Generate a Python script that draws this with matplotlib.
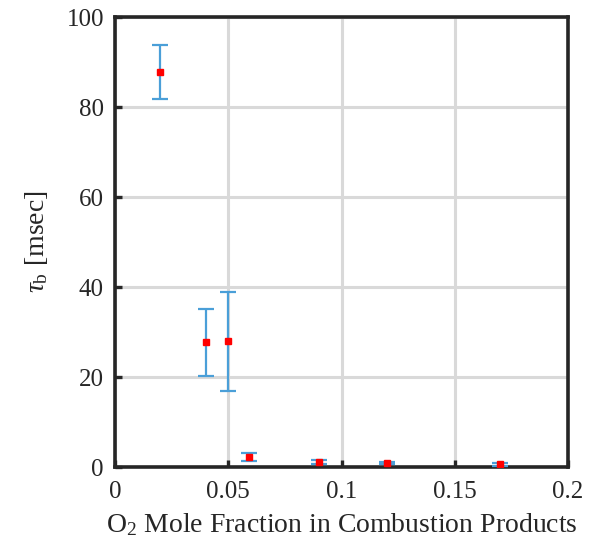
import matplotlib.pyplot as plt
import numpy as np

o2_fraction = [0.02, 0.04, 0.05, 0.059, 0.09, 0.12, 0.17]
tau_b = [87.7, 27.7, 28.0, 2.2, 1.1, 0.9, 0.6]
tau_err = [6.0, 7.5, 11.0, 0.9, 0.4, 0.3, 0.3]

plt.rcParams['font.family'] = ['Liberation Serif', 'DejaVu Serif']
plt.rcParams['mathtext.fontset'] = 'custom'
plt.rcParams['mathtext.rm'] = 'Liberation Serif'
plt.rcParams['mathtext.it'] = 'Liberation Serif:italic'

fig = plt.figure(figsize=(5.97, 5.54), dpi=100)
ax = fig.add_axes([115 / 597, 87 / 554, 453 / 597, 450 / 554])

ax.errorbar(o2_fraction, tau_b, yerr=tau_err, fmt='none', ecolor='#4a9fd8',
            elinewidth=1.6, capsize=6, capthick=1.6, zorder=3)
ax.plot(o2_fraction, tau_b, 's', color='red', markersize=5, zorder=4)

ax.set_xlim(0, 0.2)
ax.set_ylim(0, 100)
ax.set_xticks([0, 0.05, 0.1, 0.15, 0.2])
ax.set_xticklabels(['0', '0.05', '0.1', '0.15', '0.2'])
ax.set_yticks([0, 20, 40, 60, 80, 100])

ax.grid(True, color='#d9d9d9', linewidth=2.2)
ax.set_axisbelow(True)
for s in ax.spines.values():
    s.set_linewidth(2.6)
    s.set_color('#262626')
ax.tick_params(direction='in', length=5, width=2.4, color='#262626',
               labelsize=18, labelcolor='#262626')
ax.tick_params(axis='x', pad=10)
ax.tick_params(axis='y', pad=8)

ax.set_xlabel(r'O$_2$ Mole Fraction in Combustion Products', fontsize=20,
              color='#262626', labelpad=6)
ax.set_ylabel(r'$\tau_{\rm b}$ [msec]', fontsize=20, color='#262626', labelpad=12)

plt.savefig('out.png')
